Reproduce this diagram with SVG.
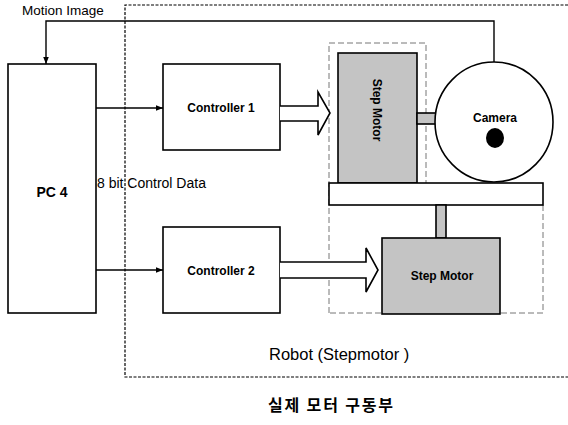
<svg xmlns="http://www.w3.org/2000/svg" width="568" height="425" viewBox="0 0 568 425">
<style>
.box{fill:#fff;stroke:#000;stroke-width:1.6}
.motor{fill:#c4c4c4;stroke:#000;stroke-width:1.6}
.dash{fill:none;stroke:#000;stroke-width:1.2;stroke-dasharray:3 1.5}
.gdash{fill:none;stroke:#777;stroke-width:1;stroke-dasharray:6 3}
.ln{fill:none;stroke:#000;stroke-width:1.4}
.hollow{fill:#fff;stroke:#000;stroke-width:1.6;stroke-linejoin:miter}
.t{font-family:"Liberation Sans",Arial,sans-serif;fill:#000}
.b{font-weight:bold}
.kr{font-family:"Noto Sans CJK KR",sans-serif;font-weight:bold;fill:#000}
</style>
<defs>
<marker id="ah" viewBox="0 0 10 10" refX="10" refY="5" markerWidth="7" markerHeight="7" markerUnits="userSpaceOnUse" orient="auto">
<path d="M0,1 L10,5 L0,9 Z" fill="#000"/>
</marker>
</defs>
<rect width="568" height="425" fill="#fff"/>

<g id="robot-region">
<path class="dash" d="M568,5 H125 V377 H568"/>
<text class="t" x="269" y="360" font-size="16.5">Robot (Stepmotor )</text>
</g>

<g id="frame">
<path class="gdash" d="M329,313 V43 H426 V183 M543,205 V313 H329"/>
</g>

<g id="pc4">
<rect class="box" x="8" y="64" width="88" height="249"/>
<text class="t b" x="52" y="197" font-size="14" text-anchor="middle">PC 4</text>
</g>

<g id="controller1">
<rect class="box" x="163" y="64" width="117" height="86"/>
<text class="t b" x="221" y="112" font-size="12" text-anchor="middle">Controller 1</text>
</g>

<g id="controller2">
<rect class="box" x="163" y="227" width="117" height="86"/>
<text class="t b" x="221" y="275" font-size="12" text-anchor="middle">Controller 2</text>
</g>

<g id="step-motor-1">
<rect class="motor" x="338" y="53" width="79" height="130"/>
<text class="t b" transform="translate(373,110) rotate(90)" font-size="12" text-anchor="middle">Step Motor</text>
</g>

<g id="shaft-1">
<rect class="motor" x="417" y="113" width="19" height="11" stroke-width="1"/>
</g>

<g id="camera">
<ellipse class="box" cx="494" cy="122" rx="59" ry="60"/>
<text class="t b" x="495" y="122" font-size="12" text-anchor="middle">Camera</text>
<ellipse cx="495" cy="138" rx="9" ry="10" fill="#000"/>
</g>

<g id="platform">
<rect class="box" x="329" y="183" width="214" height="22"/>
</g>

<g id="shaft-2">
<rect class="motor" x="436" y="205" width="10" height="33" stroke-width="1"/>
</g>

<g id="step-motor-2">
<rect class="motor" x="382" y="238" width="118" height="76"/>
<text class="t b" x="442" y="280" font-size="12" text-anchor="middle">Step Motor</text>
</g>

<g id="connectors">
<path class="ln" d="M494,62 V21 H46 V64" marker-end="url(#ah)"/>
<path class="ln" d="M96,108 H163" marker-end="url(#ah)"/>
<path class="ln" d="M96,270 H163" marker-end="url(#ah)"/>
<path class="hollow" d="M280,106 H318 V92 L330,113 L318,135 V121 H280"/>
<path class="hollow" d="M280,262 H366 V248 L378,270 L366,292 V278 H280"/>
</g>

<g id="labels">
<text class="t" x="22" y="15" font-size="13.5">Motion Image</text>
<text class="t" x="97" y="188" font-size="14">8 bit Control Data</text>
<text class="kr" x="268" y="411" font-size="16" textLength="125" lengthAdjust="spacing">실제 모터 구동부</text>
</g>
</svg>
